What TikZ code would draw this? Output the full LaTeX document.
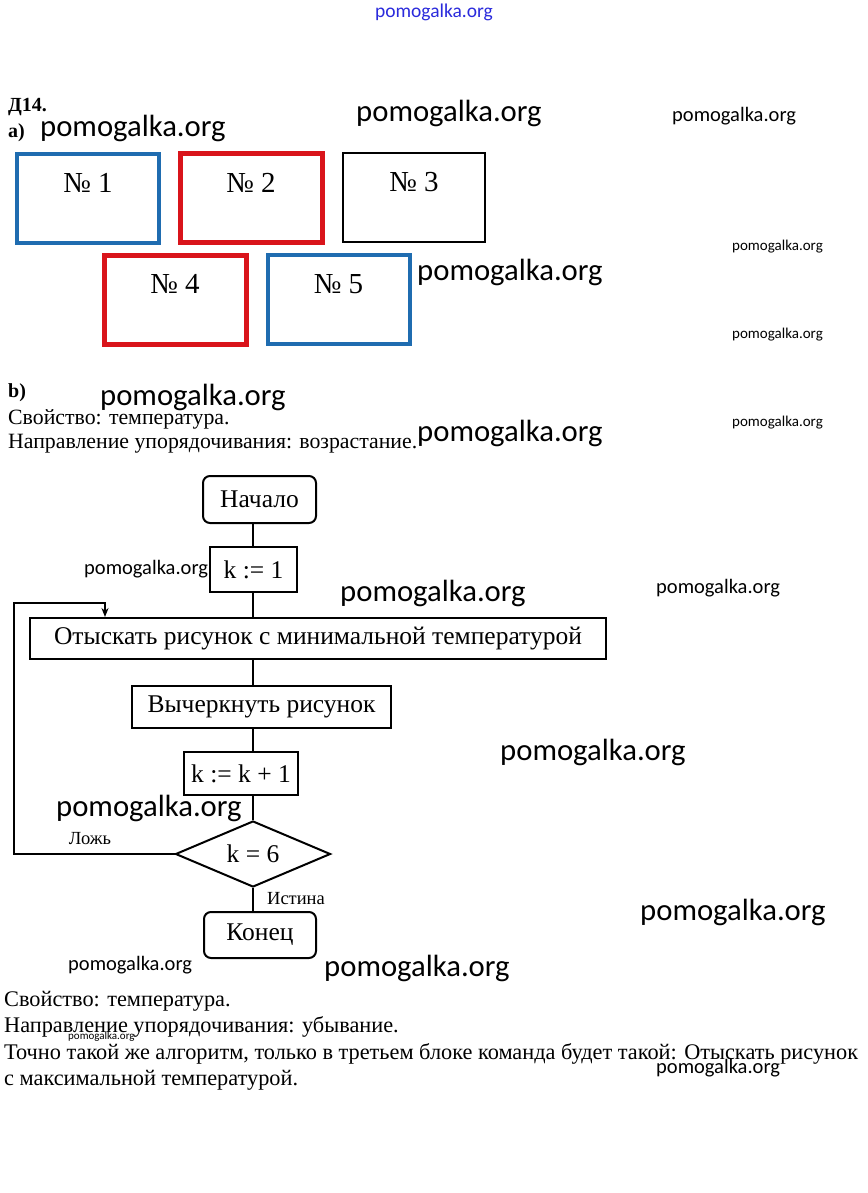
\documentclass[tikz,border=0pt]{standalone}
\usepackage{fontspec}
\setmainfont{Liberation Serif}
\newfontfamily\wmfont{Carlito}
\usetikzlibrary{shapes.geometric,arrows.meta}
\definecolor{boxblue}{HTML}{1F6CB0}
\definecolor{boxred}{HTML}{D9141B}
\definecolor{wmblue}{HTML}{2A2ADC}
\tikzset{
  wmbig/.style={inner sep=0pt, anchor=west, font=\wmfont\fontsize{30.7}{31}\selectfont},
  wmmid/.style={inner sep=0pt, anchor=west, font=\wmfont\fontsize{20.5}{21}\selectfont},
  wmsmall/.style={inner sep=0pt, anchor=west, font=\wmfont\fontsize{15}{16}\selectfont},
  wmtiny/.style={inner sep=0pt, anchor=west, font=\wmfont\fontsize{11}{12}\selectfont},
  bodytext/.style={inner sep=0pt, anchor=west, font=\fontsize{21.8}{23}\selectfont},
  bodytextb/.style={inner sep=0pt, anchor=west, font=\fontsize{22.3}{23}\selectfont},
  headtext/.style={inner sep=0pt, anchor=west, font=\bfseries\fontsize{20}{21}\selectfont},
  picbox/.style={draw, minimum width=142pt, minimum height=89pt, inner sep=0pt},
  pbblue/.style={picbox, draw=boxblue, line width=4pt},
  pbred/.style={picbox, draw=boxred, line width=5pt},
  pbblack/.style={picbox, draw=black, line width=1.5pt},
  pblabel/.style={inner sep=0pt, font=\fontsize{29}{30}\selectfont},
  fcbox/.style={draw, line width=2pt, inner sep=0pt, font=\fontsize{25.5}{27}\selectfont},
  fcround/.style={fcbox, rounded corners=7pt},
  fcdiam/.style={draw, line width=2pt, diamond, aspect=2.35, inner sep=0pt, font=\fontsize{25.5}{27}\selectfont},
  fcline/.style={line width=2pt},
  fclabel/.style={inner sep=0pt, font=\fontsize{18.5}{19}\selectfont}
}
\begin{document}
\begin{tikzpicture}[x=1pt,y=-1pt]
\useasboundingbox (0,0) rectangle (867,1193);
\fill[white] (0,0) rectangle (867,1193);

% watermarks
\node[inner sep=0pt, text=wmblue, font=\wmfont\fontsize{19.5}{20}\selectfont] (w1) at (434,12) {pomogalka.org};
\node[wmbig] (w2) at (40,128) {pomogalka.org};
\node[wmbig] (w3) at (356,113) {pomogalka.org};
\node[wmmid] (w4) at (672,116) {pomogalka.org};
\node[wmsmall] (w5) at (732,247) {pomogalka.org};
\node[wmbig] (w6) at (417,272) {pomogalka.org};
\node[wmsmall] (w7) at (732,335) {pomogalka.org};
\node[wmbig] (w8) at (100,397) {pomogalka.org};
\node[wmsmall] (w9) at (732,423) {pomogalka.org};
\node[wmbig] (w10) at (417,433) {pomogalka.org};
\node[wmmid] (w11) at (84,569) {pomogalka.org};
\node[wmbig] (w12) at (340,593) {pomogalka.org};
\node[wmmid] (w13) at (656,588) {pomogalka.org};
\node[wmbig] (w14) at (500,752) {pomogalka.org};
\node[wmbig] (w15) at (56,808) {pomogalka.org};
\node[wmbig] (w16) at (640,912) {pomogalka.org};
\node[wmmid] (w17) at (68,965) {pomogalka.org};
\node[wmbig] (w18) at (324,968) {pomogalka.org};
\node[wmtiny] (w19) at (68,1037) {pomogalka.org};
\node[wmmid] (w20) at (656,1068) {pomogalka.org};

% headings
\node[headtext] (h1) at (8,107) {Д14.};
\node[headtext] (h2) at (8,133) {а)};

% part a boxes
\node[pbblue]  (b1) at (88,198.5) {};
\node[pbred]   (b2) at (251,198) {};
\node[pbblack] (b3) at (414,197.5) {};
\node[pbred]   (b4) at (175,299.5) {};
\node[pbblue]  (b5) at (338.5,299.5) {};
\node[pblabel] (t1) at (88,183) {№ 1};
\node[pblabel] (t2) at (251,183) {№ 2};
\node[pblabel] (t3) at (414,182) {№ 3};
\node[pblabel] (t4) at (175,284) {№ 4};
\node[pblabel] (t5) at (338.5,284) {№ 5};

% part b text
\node[headtext] (h3) at (8,393) {b)};
\node[bodytext] (p1) at (8,419) {Свойство: температура.};
\node[bodytext] (p2) at (8,444) {Направление упорядочивания: возрастание.};

% flowchart
\node[fcround, minimum width=113pt, minimum height=47pt] (start) at (259.5,499.5) {Начало};
\node[fcbox, minimum width=87pt, minimum height=45pt] (k1) at (253.5,569.5) {k := 1};
\node[fcbox, minimum width=576pt, minimum height=41pt] (find) at (318,638.5) {Отыскать рисунок с минимальной температурой};
\node[fcbox, minimum width=259pt, minimum height=42pt] (cross) at (261.5,707) {Вычеркнуть рисунок};
\node[fcbox, minimum width=114pt, minimum height=43pt] (inc) at (241,773.5) {k := k + 1};
\node[fcdiam, minimum width=155pt, minimum height=66pt] (cond) at (253,854) {k = 6};
\node[fcround, minimum width=112pt, minimum height=46pt] (stop) at (260,935) {Конец};

\coordinate (cx) at (253,0);
\draw[fcline] (cx |- start.south) -- (cx |- k1.north);
\draw[fcline] (cx |- k1.south) -- (cx |- find.north);
\draw[fcline] (cx |- find.south) -- (cx |- cross.north);
\draw[fcline] (cx |- cross.south) -- (cx |- inc.north);
\draw[fcline] (cx |- inc.south) -- (cond.north);
\draw[fcline] (cond.south) -- (cx |- stop.north);

\coordinate (lp1) at (14,854);
\coordinate (lp2) at (14,603);
\coordinate (lp3) at (105,603);
\draw[fcline, -{Stealth[length=9pt,width=7pt]}] (cond.west) -- (lp1) -- (lp2) -- (lp3) -- (lp3 |- find.north);

\node[fclabel] (lfalse) at (90,839) {Ложь};
\node[fclabel] (ltrue) at (296,899) {Истина};

% bottom text
\node[bodytextb] (q1) at (4,1001) {Свойство: температура.};
\node[bodytextb] (q2) at (4,1027) {Направление упорядочивания: убывание.};
\node[bodytextb] (q3) at (4,1054) {Точно такой же алгоритм, только в третьем блоке команда будет такой: Отыскать рисунок};
\node[bodytextb] (q4) at (4,1080) {с максимальной температурой.};
\end{tikzpicture}
\end{document}
